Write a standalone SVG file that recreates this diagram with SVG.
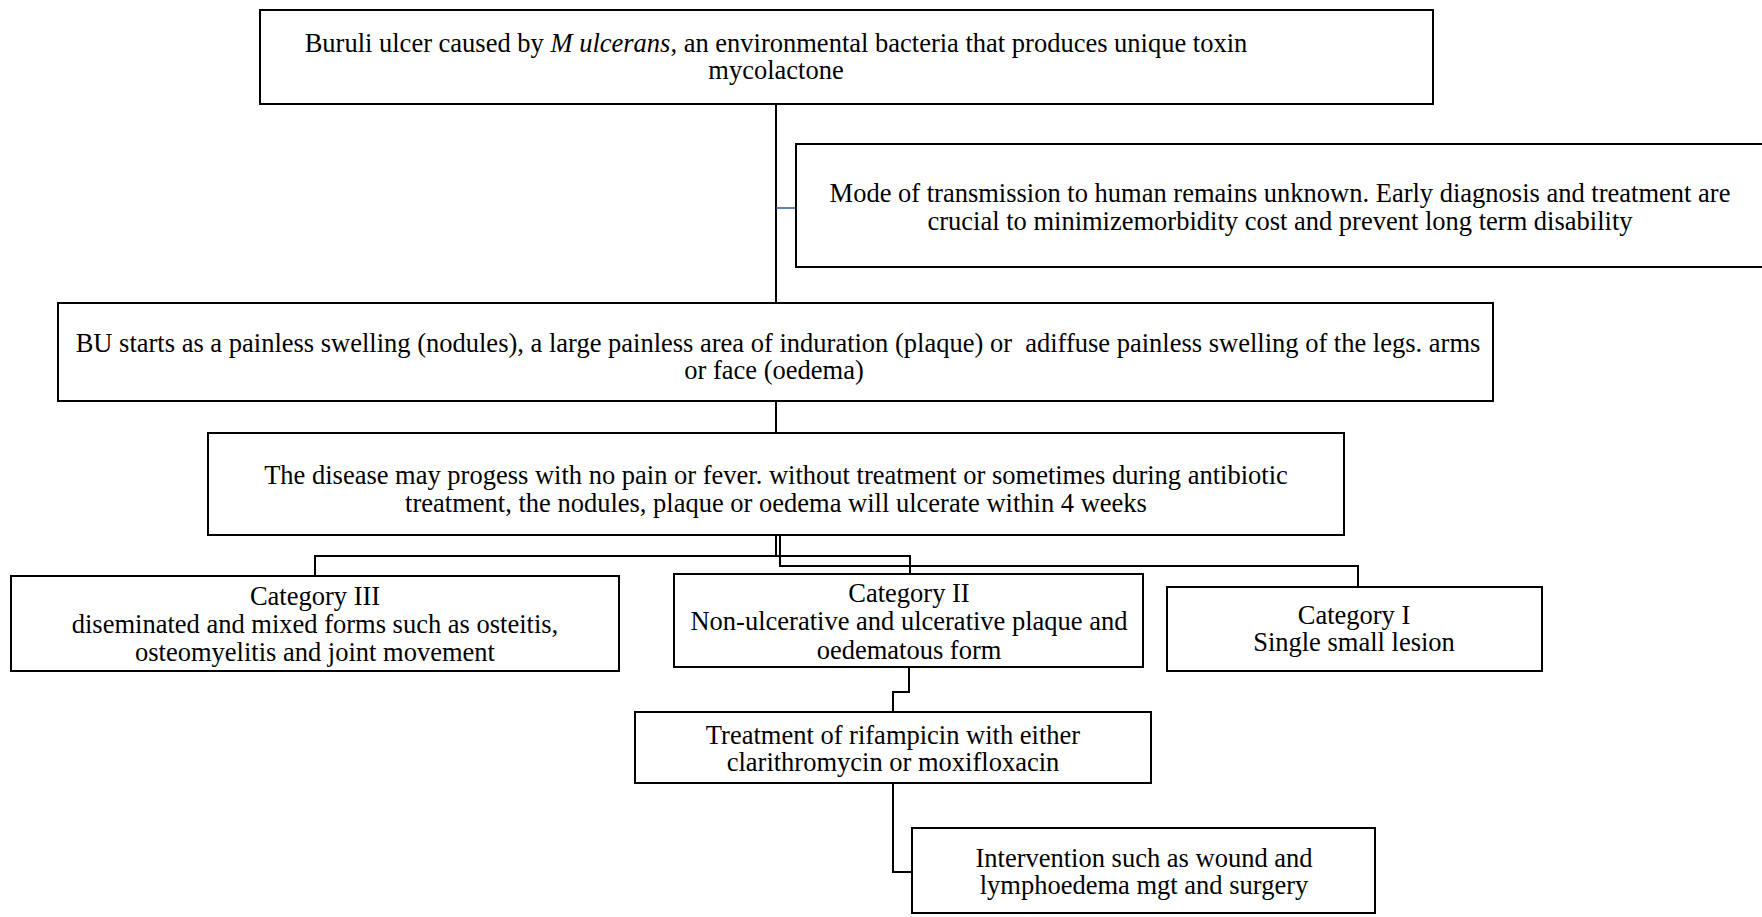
<svg xmlns="http://www.w3.org/2000/svg" width="1762" height="917" viewBox="0 0 1762 917">
<style>
.box{fill:#fff;stroke:#000;stroke-width:2}
.t{font-family:"Liberation Serif","Times New Roman",serif;font-size:26.5px;fill:#000;text-anchor:middle;white-space:pre}
.c{fill:none;stroke:#000;stroke-width:2}
.cb{fill:none;stroke:#2f5597;stroke-width:1.5}
</style>
<rect width="1762" height="917" fill="#fff"/>
<g id="connectors">
<line class="c" x1="776" y1="104" x2="776" y2="303"/>
<line class="cb" x1="776" y1="208" x2="796" y2="208"/>
<line class="c" x1="776" y1="401" x2="776" y2="433"/>
<polyline class="c" points="776,535 776,556 315,556 315,576"/>
<polyline class="c" points="776,556 910,556 910,574"/>
<polyline class="c" points="780,535 780,566 1358,566 1358,587"/>
<polyline class="c" points="909,667 909,692 893,692 893,712"/>
<polyline class="c" points="893,783 893,872 912,872"/>
</g>
<g id="n1">
<rect class="box" x="260" y="10" width="1173" height="94"/>
<text class="t" x="776" y="52">Buruli ulcer caused by <tspan font-style="italic">M ulcerans</tspan>, an environmental bacteria that produces unique toxin</text>
<text class="t" x="776" y="79">mycolactone</text>
</g>
<g id="n2">
<rect class="box" x="796" y="144" width="970" height="123"/>
<text class="t" x="1280" y="202">Mode of transmission to human remains unknown. Early diagnosis and treatment are</text>
<text class="t" x="1280" y="230">crucial to minimizemorbidity cost and prevent long term disability</text>
</g>
<g id="n3">
<rect class="box" x="58" y="303" width="1435" height="98"/>
<text class="t" x="778" y="352">BU starts as a painless swelling (nodules), a large painless area of induration (plaque) or  adiffuse painless swelling of the legs. arms</text>
<text class="t" x="774" y="379">or face (oedema)</text>
</g>
<g id="n4">
<rect class="box" x="208" y="433" width="1136" height="102"/>
<text class="t" x="776" y="484">The disease may progess with no pain or fever. without treatment or sometimes during antibiotic</text>
<text class="t" x="776" y="512">treatment, the nodules, plaque or oedema will ulcerate within 4 weeks</text>
</g>
<g id="n5">
<rect class="box" x="11" y="576" width="608" height="95"/>
<text class="t" x="315" y="605">Category III</text>
<text class="t" x="315" y="633">diseminated and mixed forms such as osteitis,</text>
<text class="t" x="315" y="661">osteomyelitis and joint movement</text>
</g>
<g id="n6">
<rect class="box" x="674" y="574" width="469" height="93"/>
<text class="t" x="909" y="602">Category II</text>
<text class="t" x="909" y="630">Non-ulcerative and ulcerative plaque and</text>
<text class="t" x="909" y="659">oedematous form</text>
</g>
<g id="n7">
<rect class="box" x="1167" y="587" width="375" height="84"/>
<text class="t" x="1354" y="624">Category I</text>
<text class="t" x="1354" y="651">Single small lesion</text>
</g>
<g id="n8">
<rect class="box" x="635" y="712" width="516" height="71"/>
<text class="t" x="893" y="744">Treatment of rifampicin with either</text>
<text class="t" x="893" y="771">clarithromycin or moxifloxacin</text>
</g>
<g id="n9">
<rect class="box" x="912" y="828" width="463" height="85"/>
<text class="t" x="1144" y="867">Intervention such as wound and</text>
<text class="t" x="1144" y="894">lymphoedema mgt and surgery</text>
</g>
</svg>
